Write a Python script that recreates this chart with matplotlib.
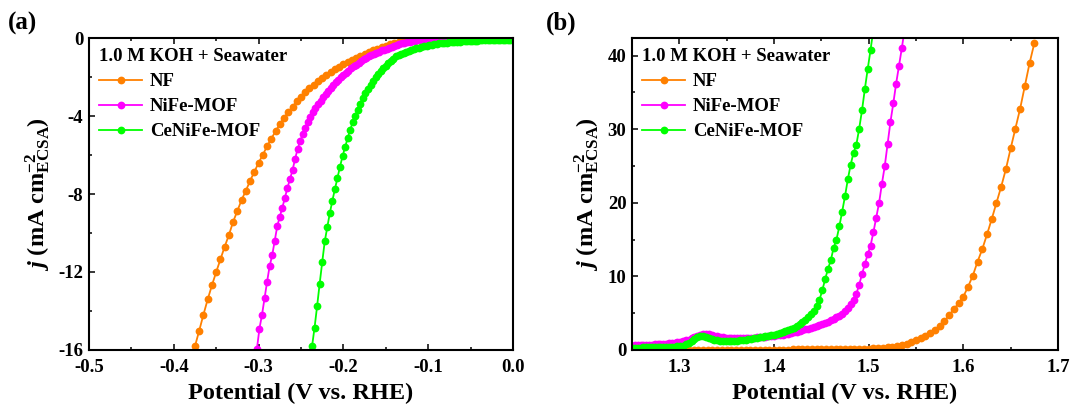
import matplotlib
matplotlib.use('Agg')
import matplotlib.pyplot as plt
from matplotlib.ticker import MultipleLocator, FormatStrFormatter
import numpy as np

plt.rcParams['font.family'] = ['Liberation Serif', 'DejaVu Serif']
plt.rcParams['font.weight'] = 'bold'
plt.rcParams['axes.unicode_minus'] = False
plt.rcParams['mathtext.fontset'] = 'custom'
plt.rcParams['mathtext.rm'] = 'Liberation Serif:bold'
plt.rcParams['mathtext.bf'] = 'Liberation Serif:bold'
plt.rcParams['mathtext.it'] = 'Liberation Serif:italic:bold'

labels = ['NF', 'NiFe-MOF', 'CeNiFe-MOF']
colors = ['#ff8000', '#ff00ff', '#00ff00']
electrolyte = '1.0 M KOH + Seawater'

# (a) HER, potential sweeps: (start, step) in V, current in mA cm-2
her_nf_start, her_nf_step = -0.375, 0.005
her_nf_j = [-15.80, -15.00, -14.18, -13.40, -12.68, -12.00, -11.35, -10.70, -10.10, -9.42,
            -8.86, -8.30, -7.83, -7.32, -6.86, -6.40, -5.99, -5.55, -5.16, -4.78,
            -4.42, -4.10, -3.80, -3.52, -3.25, -3.00, -2.78, -2.58, -2.40, -2.22,
            -2.05, -1.90, -1.75, -1.61, -1.48, -1.35, -1.23, -1.12, -1.01, -0.91,
            -0.81, -0.72, -0.63, -0.55, -0.47, -0.40, -0.33, -0.27, -0.22, -0.17,
            -0.13, -0.10, -0.08, -0.06, -0.05, -0.04, -0.04, -0.03, -0.03, -0.03,
            -0.03, -0.03, -0.03, -0.03, -0.03, -0.03, -0.03, -0.03, -0.03, -0.03,
            -0.03, -0.03, -0.03, -0.03, -0.03, -0.03]

her_nife_start, her_nife_step = -0.302, 0.003
her_nife_j = [-15.95, -14.90, -14.20, -13.35, -12.50, -11.70, -11.15, -10.40, -9.65, -9.16,
              -8.70, -8.20, -7.68, -7.25, -6.77, -6.22, -5.68, -5.30, -4.93, -4.60,
              -4.30, -4.05, -3.82, -3.61, -3.41, -3.22, -3.04, -2.87, -2.71, -2.56,
              -2.42, -2.28, -2.15, -2.02, -1.90, -1.78, -1.67, -1.56, -1.46, -1.36,
              -1.27, -1.18, -1.09, -1.01, -0.94, -0.88, -0.82, -0.76, -0.70, -0.64,
              -0.59, -0.54, -0.49, -0.44, -0.40, -0.36, -0.32, -0.28, -0.25, -0.22,
              -0.19, -0.16, -0.14, -0.12, -0.10, -0.09, -0.08, -0.07, -0.07, -0.07,
              -0.07, -0.07, -0.07, -0.07, -0.07, -0.07, -0.07, -0.07, -0.07, -0.07,
              -0.06, -0.06, -0.06, -0.06, -0.06, -0.06, -0.06, -0.06, -0.06, -0.06,
              -0.06, -0.06, -0.06, -0.06, -0.06, -0.05, -0.05, -0.05, -0.05, -0.05,
              -0.05]

her_cenife_start, her_cenife_step = -0.240, 0.003
her_cenife_j = [-16.75, -15.82, -14.85, -13.75, -12.60, -11.50, -10.43, -9.70, -8.98, -8.34,
                -7.75, -7.17, -6.60, -6.06, -5.60, -5.14, -4.70, -4.33, -4.00, -3.67,
                -3.36, -3.09, -2.83, -2.59, -2.39, -2.19, -2.01, -1.85, -1.70, -1.56,
                -1.42, -1.29, -1.17, -1.06, -0.94, -0.87, -0.81, -0.76, -0.71, -0.66,
                -0.61, -0.56, -0.52, -0.49, -0.46, -0.43, -0.40, -0.37, -0.35, -0.33,
                -0.31, -0.28, -0.26, -0.25, -0.24, -0.23, -0.21, -0.20, -0.19, -0.18,
                -0.17, -0.16, -0.15, -0.15, -0.14, -0.13, -0.13, -0.12, -0.12, -0.11,
                -0.11, -0.10, -0.10, -0.09, -0.09, -0.09, -0.08, -0.08, -0.08, -0.08,
                -0.08]

# (b) OER
oer_nf_start, oer_nf_step = 1.300, 0.005
oer_nf_j = [0.05, 0.05, 0.05, 0.05, 0.05, 0.05, 0.05, 0.05, 0.05, 0.05,
            0.05, 0.05, 0.05, 0.05, 0.05, 0.05, 0.05, 0.05, 0.05, 0.05,
            0.06, 0.06, 0.06, 0.06, 0.07, 0.07, 0.07, 0.08, 0.08, 0.08,
            0.09, 0.09, 0.10, 0.10, 0.11, 0.12, 0.13, 0.14, 0.15, 0.17,
            0.18, 0.21, 0.25, 0.30, 0.37, 0.45, 0.52, 0.64, 0.82, 1.08,
            1.32, 1.58, 1.90, 2.30, 2.75, 3.25, 3.90, 4.75, 5.55, 6.35,
            7.25, 8.60, 10.10, 12.00, 13.70, 15.70, 17.80, 20.00, 22.20, 24.60,
            27.40, 30.10, 32.80, 35.90, 39.00, 41.70]

oer_nife_start, oer_nife_step = 1.250, 0.003
oer_nife_j = [0.60, 0.62, 0.64, 0.66, 0.68, 0.70, 0.72, 0.74, 0.76, 0.78,
              0.80, 0.83, 0.86, 0.90, 0.94, 0.99, 1.05, 1.12, 1.20, 1.30,
              1.42, 1.57, 1.74, 1.90, 2.05, 2.16, 2.20, 2.17, 2.08, 1.97,
              1.87, 1.79, 1.72, 1.67, 1.63, 1.60, 1.59, 1.58, 1.58, 1.59,
              1.60, 1.62, 1.64, 1.67, 1.70, 1.73, 1.76, 1.80, 1.84, 1.88,
              1.93, 1.98, 2.03, 2.09, 2.16, 2.23, 2.31, 2.40, 2.50, 2.60,
              2.70, 2.80, 2.91, 3.02, 3.14, 3.26, 3.39, 3.53, 3.68, 3.84,
              4.01, 4.20, 4.42, 4.67, 4.96, 5.30, 5.70, 6.20, 6.80, 7.60,
              8.90, 10.30, 11.70, 13.00, 14.20, 16.00, 18.00, 20.00, 22.60, 25.00,
              28.00, 31.00, 33.50, 36.20, 38.60, 41.00, 43.60]

oer_cenife_start, oer_cenife_step = 1.250, 0.003
oer_cenife_j = [0.30, 0.31, 0.32, 0.33, 0.34, 0.35, 0.36, 0.37, 0.38, 0.39,
                0.40, 0.41, 0.42, 0.43, 0.45, 0.47, 0.49, 0.52, 0.60, 0.75,
                0.98, 1.25, 1.52, 1.75, 1.88, 1.85, 1.74, 1.60, 1.48, 1.39,
                1.33, 1.29, 1.26, 1.24, 1.23, 1.23, 1.24, 1.26, 1.30, 1.35,
                1.40, 1.46, 1.52, 1.58, 1.64, 1.71, 1.78, 1.85, 1.93, 2.01,
                2.10, 2.20, 2.31, 2.43, 2.56, 2.70, 2.86, 3.04, 3.26, 3.52,
                3.80, 4.10, 4.45, 4.85, 5.30, 5.95, 6.80, 8.10, 9.60, 11.00,
                12.20, 13.90, 15.00, 16.80, 18.80, 20.90, 23.20, 25.20, 26.80, 27.90,
                30.10, 32.60, 35.50, 38.20, 40.80, 43.60]


def sweep(start, step, j):
    return start + step * np.arange(len(j))


her = [(her_nf_start, her_nf_step, her_nf_j),
       (her_nife_start, her_nife_step, her_nife_j),
       (her_cenife_start, her_cenife_step, her_cenife_j)]
oer = [(oer_nf_start, oer_nf_step, oer_nf_j),
       (oer_nife_start, oer_nife_step, oer_nife_j),
       (oer_cenife_start, oer_cenife_step, oer_cenife_j)]

fig = plt.figure(figsize=(10.72, 4.08), dpi=100)
ax1 = fig.add_axes([89 / 1072, 58 / 408, 424 / 1072, 312 / 408])
ax2 = fig.add_axes([632 / 1072, 58 / 408, 426 / 1072, 312 / 408])

for ax, data in ((ax1, her), (ax2, oer)):
    for (start, step, j), lab, c in zip(data, labels, colors):
        ax.plot(sweep(start, step, j), j, '-o', color=c, lw=1.3, ms=5.6,
                mec=c, mew=0, label=lab)

ax1.set_xlim(-0.5, 0.0)
ax1.set_ylim(-16, 0)
ax1.xaxis.set_major_locator(MultipleLocator(0.1))
ax1.xaxis.set_minor_locator(MultipleLocator(0.05))
ax1.yaxis.set_major_locator(MultipleLocator(4))
ax1.yaxis.set_minor_locator(MultipleLocator(2))
ax1.xaxis.set_major_formatter(FormatStrFormatter('%.1f'))

ax2.set_xlim(1.25, 1.70)
ax2.set_ylim(0, 42.4)
ax2.xaxis.set_major_locator(MultipleLocator(0.1))
ax2.xaxis.set_minor_locator(MultipleLocator(0.05))
ax2.yaxis.set_major_locator(MultipleLocator(10))
ax2.yaxis.set_minor_locator(MultipleLocator(5))
ax2.xaxis.set_major_formatter(FormatStrFormatter('%.1f'))

for ax in (ax1, ax2):
    for s in ax.spines.values():
        s.set_linewidth(1.5)
    ax.tick_params(which='both', direction='in', top=True, right=False,
                   width=1.1, labelsize=13.5)
    ax.tick_params(which='major', length=4)
    ax.tick_params(which='minor', length=2.2)
    ax.tick_params(axis='x', which='major', pad=6.5)
    ax.tick_params(axis='y', which='major', pad=4)
    ax.set_xlabel('Potential (V vs. RHE)', fontsize=17.5, fontweight='bold', labelpad=5)
    ax.set_ylabel(r'$j$ (mA cm$^{-2}_{\rm ECSA}$)', fontsize=17.5, fontweight='bold', labelpad=4)
    leg = ax.legend(loc='upper left', title=electrolyte, frameon=False,
                    prop={'size': 13.5, 'weight': 'bold'}, handlelength=2.3,
                    handletextpad=0.4, labelspacing=0.42, borderaxespad=0.4,
                    borderpad=0.15)
    leg.get_title().set_fontsize(13.5)
    leg.get_title().set_fontweight('bold')
    leg._legend_box.align = 'left'

fig.text(8 / 1072, 1 - 12 / 408, '(a)', fontsize=18, fontweight='bold', va='top')
fig.text(546 / 1072, 1 - 12 / 408, '(b)', fontsize=18, fontweight='bold', va='top')

fig.savefig('out.png', dpi=100)
